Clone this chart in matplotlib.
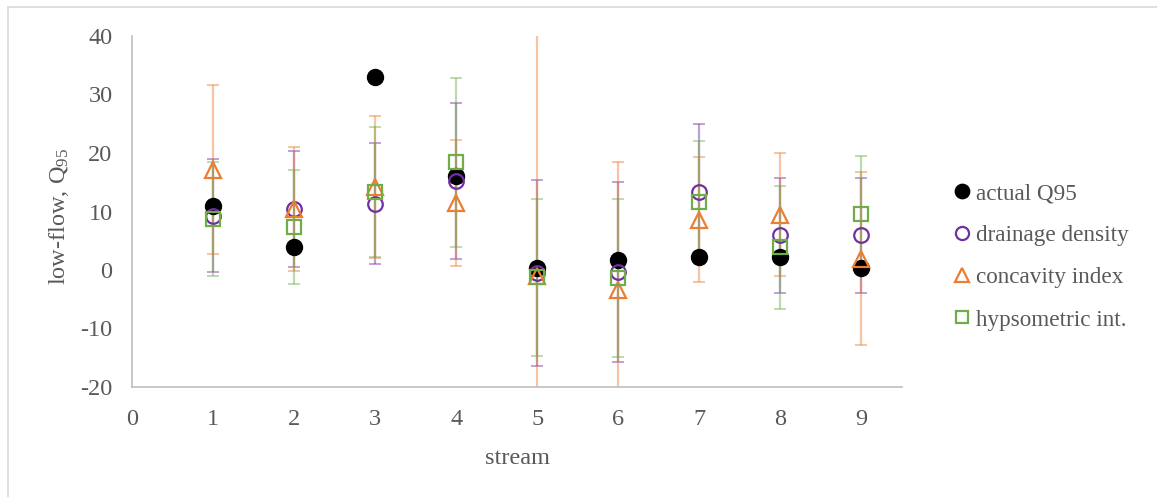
import matplotlib
matplotlib.use("Agg")
import matplotlib.pyplot as plt
from matplotlib.patches import Rectangle
import numpy as np

plt.rcParams['font.family'] = ['Liberation Serif', 'DejaVu Serif']
plt.rcParams['mathtext.fontset'] = 'custom'
plt.rcParams['mathtext.rm'] = 'Liberation Serif'
plt.rcParams['mathtext.it'] = 'Liberation Serif:italic'
plt.rcParams['axes.unicode_minus'] = False

streams = [1, 2, 3, 4, 5, 6, 7, 8, 9]
actual_q95 = [11.0, 3.9, 33.0, 16.0, 0.4, 1.7, 2.2, 2.3, 0.4]
drainage_density = [9.3, 10.4, 11.35, 15.2, -0.55, -0.3, 13.3, 5.9, 5.9]
drainage_err = [9.6, 9.9, 10.35, 13.4, 15.85, 15.4, 11.6, 9.8, 9.8]
concavity_index = [17.15, 10.4, 14.2, 11.5, -1.0, -3.4, 8.6, 9.45, 1.9]
concavity_err = [14.45, 10.6, 12.1, 10.8, 45.0, 21.8, 10.7, 10.55, 14.8]
hypsometric_int = [8.75, 7.35, 13.4, 18.4, -1.25, -1.3, 11.7, 3.9, 9.6]
hypsometric_err = [9.75, 9.75, 11.1, 14.4, 13.45, 13.5, 10.3, 10.5, 9.9]

TEXT = '#595959'
ORANGE = '#ED7D31'
PURPLE = '#7030A0'
GREEN = '#70AD47'
FS = 17.5
LFS = 16.7

W, H = 1157, 497
fig = plt.figure(figsize=(W / 100, H / 100), dpi=100)
ax = fig.add_axes([132 / W, 1 - 387 / H, (902 - 132) / W, (387 - 36) / H])

# outer chart frame
fig.patches.append(Rectangle((8 / W, -0.1), 1.2, 1 - 7 / H + 0.1, transform=fig.transFigure,
                             fill=False, edgecolor='#D9D9D9', linewidth=1.2))

ebkw = dict(fmt='none', capsize=4.5, elinewidth=1.6, capthick=1.4, alpha=0.45, zorder=2)
ax.errorbar(streams, drainage_density, yerr=drainage_err, ecolor=PURPLE, **ebkw)
ax.errorbar(streams, concavity_index, yerr=concavity_err, ecolor=ORANGE, **ebkw)
ax.errorbar(streams, hypsometric_int, yerr=hypsometric_err, ecolor=GREEN, **ebkw)

ax.plot(streams, actual_q95, 'o', color='black', markersize=11.5, linestyle='none',
        zorder=3, label='actual Q95')
ax.plot(streams, drainage_density, 'o', markerfacecolor='none', markeredgecolor=PURPLE,
        markeredgewidth=1.6, markersize=10.5, linestyle='none', zorder=4, label='drainage density')
ax.plot(streams, concavity_index, '^', markerfacecolor='none', markeredgecolor=ORANGE,
        markeredgewidth=1.6, markersize=11.5, linestyle='none', zorder=5, label='concavity index')
ax.plot(streams, hypsometric_int, 's', markerfacecolor='none', markeredgecolor=GREEN,
        markeredgewidth=1.6, markersize=10, linestyle='none', zorder=6, label='hypsometric int.')

ax.set_xlim(0, 9.5)
ax.set_ylim(-20, 40)
ax.set_xticks(range(0, 10))
ax.set_yticks(range(-20, 41, 10))
ax.tick_params(length=0, labelsize=FS, colors=TEXT)
ax.tick_params(axis='y', pad=14)
ax.tick_params(axis='x', pad=16)
for s in ['top', 'right']:
    ax.spines[s].set_visible(False)
for s in ['left', 'bottom']:
    ax.spines[s].set_color('#BFBFBF')
    ax.spines[s].set_linewidth(1.2)

ax.set_xlabel('stream', fontsize=FS, color=TEXT, labelpad=13)
ax.set_ylabel(r'low-flow, Q$_{\mathrm{95}}$', fontsize=FS, color=TEXT, labelpad=6)
ax.yaxis.set_label_coords(-0.079, 0.485)

leg = fig.legend(loc='upper left', bbox_to_anchor=(956 / W, 1 - 183 / H), frameon=False,
                 fontsize=LFS, labelspacing=0.9, handlelength=0.55, handletextpad=0.3,
                 borderaxespad=0, borderpad=0, markerscale=0.9)
for t in leg.get_texts():
    t.set_color(TEXT)

fig.savefig('out.png', dpi=100)
